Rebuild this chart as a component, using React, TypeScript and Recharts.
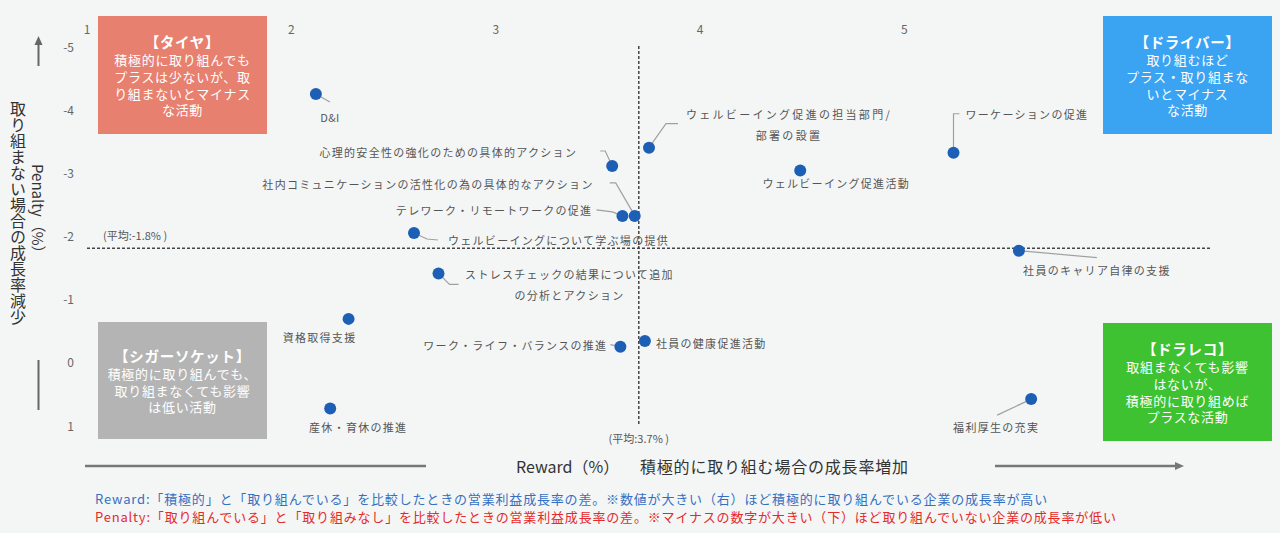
import React from 'react';
import { ScatterChart, Scatter, XAxis, YAxis, ReferenceLine } from 'recharts';

// 施策ごとの Reward / Penalty (%)
const activities = [
  'D&I',
  '心理的安全性の強化のための具体的アクション',
  '社内コミュニケーションの活性化の為の具体的なアクション',
  'テレワーク・リモートワークの促進',
  'ウェルビーイングについて学ぶ場の提供',
  'ストレスチェックの結果について追加\nの分析とアクション',
  'ウェルビーイング促進の担当部門/\n部署の設置',
  'ウェルビーイング促進活動',
  'ワーケーションの促進',
  '社員のキャリア自律の支援',
  '資格取得支援',
  '産休・育休の推進',
  'ワーク・ライフ・バランスの推進',
  '社員の健康促進活動',
  '福利厚生の充実',
];
const rewardPct = [2.12, 3.57, 3.68, 3.62, 2.6, 2.72, 3.75, 4.49, 5.24, 5.56, 2.28, 2.19, 3.61, 3.73, 5.62];
const penaltyPct = [-4.24, -3.1, -2.31, -2.31, -2.04, -1.4, -3.39, -3.03, -3.31, -1.76, -0.68, 0.74, -0.24, -0.33, 0.59];

const rewardTicks = [1, 2, 3, 4, 5];
const penaltyTicks = [-5, -4, -3, -2, -1, 0, 1];
const rewardAvg = 3.7;
const penaltyAvg = -1.8;

const data = activities.map((name, i) => ({ name, x: rewardPct[i], y: penaltyPct[i], idx: i }));

// ラベルの置き方（点からのピクセルずれ）
type Place = {
  dx: number;
  dy: number[];
  anchor: 'start' | 'middle' | 'end';
  leader?: [number, number][];
  spacing?: number;
};
const placements: Place[] = [
  { dx: 14, dy: [23], anchor: 'middle', leader: [[0, 0], [14, 8]], spacing: 0.3 },
  { dx: -35, dy: [-14], anchor: 'end', leader: [[-12, -15], [-7, -15], [0, 0]] },
  { dx: -41, dy: [-32], anchor: 'end', leader: [[-25, -33], [-19, -33], [-1, -2]] },
  { dx: -30, dy: [-6], anchor: 'end', leader: [[-26, -6], [-10, -4], [0, 0]] },
  { dx: 34, dy: [7], anchor: 'start', leader: [[0, 0], [13, 6], [24, 7]] },
  { dx: 131, dy: [1, 22], anchor: 'middle', leader: [[0, 0], [11, 11], [20, 11]] },
  { dx: 140, dy: [-34, -13], anchor: 'middle', leader: [[0, 0], [17, -24], [29, -24]], spacing: 2.3 },
  { dx: 36, dy: [13], anchor: 'middle' },
  { dx: 12, dy: [-39], anchor: 'start', leader: [[0, 0], [0, -39], [6, -39]] },
  { dx: 78, dy: [19], anchor: 'middle', leader: [[0, 0], [78, 7]] },
  { dx: -29, dy: [18], anchor: 'middle' },
  { dx: 28, dy: [18], anchor: 'middle' },
  { dx: -13, dy: [-2], anchor: 'end', leader: [[-10, -2], [0, 0]] },
  { dx: 11, dy: [2], anchor: 'start' },
  { dx: -35, dy: [28], anchor: 'middle', leader: [[0, 0], [-34, 16]] },
];

const FONT = '"Noto Sans CJK JP", "Noto Sans", sans-serif';

function ActivityDot(props: any) {
  const { cx, cy, payload } = props;
  const p = placements[payload.idx];
  const lines: string[] = payload.name.split('\n');
  return (
    <g>
      {p.leader && (
        <polyline
          points={p.leader.map(([x, y]) => `${cx + x},${cy + y}`).join(' ')}
          fill="none"
          stroke="#a0a0a0"
          strokeWidth={1.2}
        />
      )}
      <circle cx={cx} cy={cy} r={6} fill="#1d5fb4" />
      {lines.map((l, i) => (
        <text
          key={i}
          x={cx + p.dx}
          y={cy + p.dy[i]}
          textAnchor={p.anchor}
          dominantBaseline="central"
          fontSize={11}
          letterSpacing={p.spacing ?? 1.3}
          fill="#555"
          fontFamily={FONT}
        >
          {l}
        </text>
      ))}
    </g>
  );
}

const boxStyle = (bg: string, left: number, top: number, height: number): React.CSSProperties => ({
  position: 'absolute',
  left,
  top,
  width: 169,
  height,
  background: bg,
  color: '#fff',
  display: 'flex',
  flexDirection: 'column',
  alignItems: 'center',
  justifyContent: 'center',
  fontSize: 13,
  lineHeight: '16.7px',
  letterSpacing: 0.7,
  textAlign: 'center',
});

function QuadrantBox({ title, lines, style }: { title: string; lines: string[]; style: React.CSSProperties }) {
  return (
    <div style={style}>
      <div style={{ fontWeight: 700, fontSize: 14.5, lineHeight: '21px' }}>{title}</div>
      {lines.map((l, i) => (
        <div key={i}>{l}</div>
      ))}
    </div>
  );
}

export default function App() {
  return (
    <div
      style={{
        position: 'absolute',
        left: 0,
        top: 0,
        width: 1280,
        height: 533,
        background: '#f4f6f6',
        fontFamily: FONT,
        overflow: 'hidden',
      }}
    >
      <div style={{ position: 'absolute', left: 0, top: 0 }}>
        <ScatterChart width={1280} height={533} margin={{ top: 16, right: 69, bottom: 108, left: 47 }}>
          <XAxis
            type="number"
            dataKey="x"
            orientation="top"
            height={30}
            domain={[1, 6.5]}
            ticks={rewardTicks}
            axisLine={false}
            tickLine={false}
            tick={({ x, payload }: any) => (
              <text x={x} y={28} textAnchor="middle" dominantBaseline="central" fontSize={12} fill="#666" fontFamily={FONT}>
                {payload.value}
              </text>
            )}
          />
          <YAxis
            type="number"
            dataKey="y"
            width={40}
            domain={[-5, 1]}
            reversed
            ticks={penaltyTicks}
            axisLine={false}
            tickLine={false}
            tick={({ y, payload }: any) => (
              <text x={74} y={y} textAnchor="end" dominantBaseline="central" fontSize={12} fill="#666" fontFamily={FONT}>
                {payload.value}
              </text>
            )}
          />
          <ReferenceLine
            y={penaltyAvg}
            stroke="#444"
            strokeWidth={1.5}
            strokeDasharray="3 2"
            label={({ viewBox }: any) => (
              <text x={viewBox.x + 16} y={viewBox.y - 13} dominantBaseline="central" fontSize={11} fill="#555" fontFamily={FONT}>
                (平均:-1.8% )
              </text>
            )}
          />
          <ReferenceLine
            x={rewardAvg}
            stroke="#444"
            strokeWidth={1.5}
            strokeDasharray="3 2"
            label={({ viewBox }: any) => (
              <text
                x={viewBox.x}
                y={viewBox.y + viewBox.height + 13}
                textAnchor="middle"
                dominantBaseline="central"
                fontSize={11}
                fill="#555"
                fontFamily={FONT}
              >
                (平均:3.7% )
              </text>
            )}
          />
          <Scatter data={data} shape={ActivityDot} isAnimationActive={false} />
        </ScatterChart>
      </div>

      <QuadrantBox
        title="【タイヤ】"
        lines={['積極的に取り組んでも', 'プラスは少ないが、取', 'り組まないとマイナス', 'な活動']}
        style={boxStyle('#e8806f', 98, 16, 118)}
      />
      <QuadrantBox
        title="【ドライバー】"
        lines={['取り組むほど', 'プラス・取り組まな', 'いとマイナス', 'な活動']}
        style={boxStyle('#3aa3f2', 1103, 16, 118)}
      />
      <QuadrantBox
        title="【シガーソケット】"
        lines={['積極的に取り組んでも、', '取り組まなくても影響', 'は低い活動']}
        style={boxStyle('#b4b4b4', 98, 322, 117)}
      />
      <QuadrantBox
        title="【ドラレコ】"
        lines={['取組まなくても影響', 'はないが、', '積極的に取り組めば', 'プラスな活動']}
        style={boxStyle('#3ec232', 1103, 323, 118)}
      />

      <div
        style={{
          position: 'absolute',
          left: 5,
          top: 90,
          width: 44,
          height: 245,
          writingMode: 'vertical-rl',
          textAlign: 'center',
          fontSize: 16,
          lineHeight: '21px',
          color: '#333',
        }}
      >
        <div style={{ fontSize: 15 }}>Penalty（%）</div>
        <div>取り組まない場合の成長率減少</div>
      </div>

      <svg width={1280} height={533} style={{ position: 'absolute', left: 0, top: 0, pointerEvents: 'none' }}>
        <line x1={38.5} y1={66} x2={38.5} y2={43} stroke="#666" strokeWidth={2} />
        <polygon points="38.5,36 34.5,45 42.5,45" fill="#666" />
        <line x1={38.5} y1={360} x2={38.5} y2={410} stroke="#666" strokeWidth={2} />
        <line x1={85} y1={466} x2={426} y2={466} stroke="#777" strokeWidth={2.5} />
        <line x1={995} y1={466} x2={1176} y2={466} stroke="#777" strokeWidth={2.5} />
        <polygon points="1184,466 1175,462 1175,470" fill="#777" />
        <text x={516} y={466} dominantBaseline="central" fontSize={16} fill="#333" fontFamily={FONT}>
          Reward（%）
        </text>
        <text x={640} y={466} dominantBaseline="central" fontSize={16} letterSpacing={0.8} fill="#333" fontFamily={FONT}>
          積極的に取り組む場合の成長率増加
        </text>
        <text x={95} y={498} dominantBaseline="central" fontSize={13} letterSpacing={0.83} fill="#3470c2" fontFamily={FONT}>
          Reward:「積極的」と「取り組んでいる」を比較したときの営業利益成長率の差。※数値が大きい（右）ほど積極的に取り組んでいる企業の成長率が高い
        </text>
        <text x={95} y={516} dominantBaseline="central" fontSize={13} letterSpacing={0.82} fill="#e52a2a" fontFamily={FONT}>
          Penalty:「取り組んでいる」と「取り組みなし」を比較したときの営業利益成長率の差。※マイナスの数字が大きい（下）ほど取り組んでいない企業の成長率が低い
        </text>
      </svg>
    </div>
  );
}
